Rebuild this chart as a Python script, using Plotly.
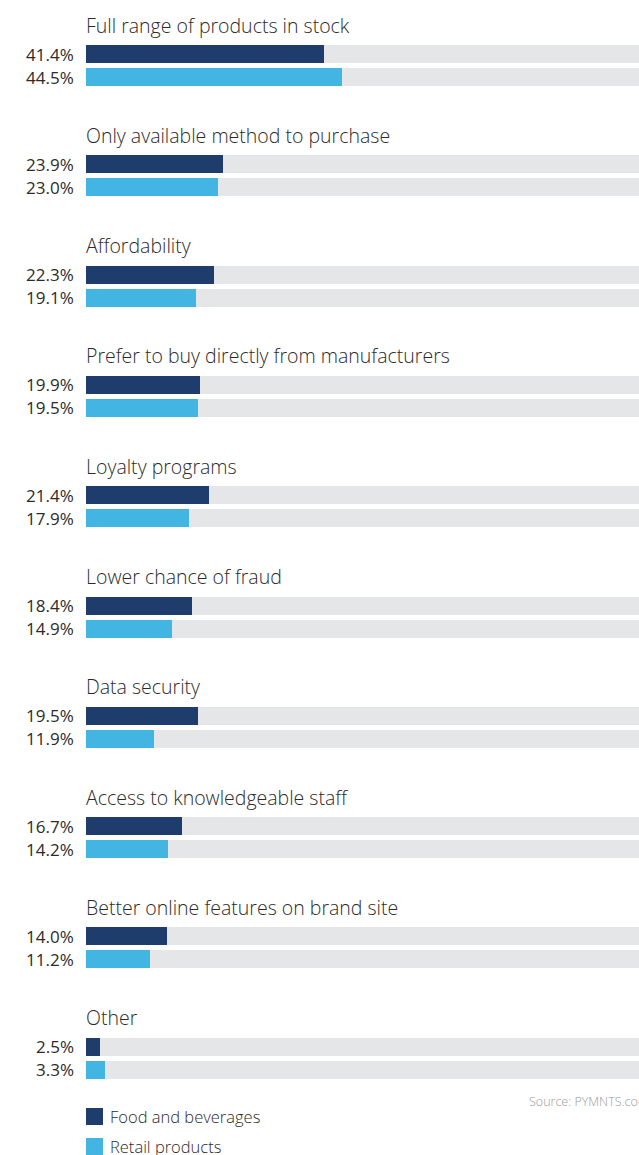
import plotly.graph_objects as go

# Survey reasons and shares (%) for each product group
reasons = [
    "Full range of products in stock",
    "Only available method to purchase",
    "Affordability",
    "Prefer to buy directly from manufacturers",
    "Loyalty programs",
    "Lower chance of fraud",
    "Data security",
    "Access to knowledgeable staff",
    "Better online features on brand site",
    "Other",
]
food_beverages = [41.4, 23.9, 22.3, 19.9, 21.4, 18.4, 19.5, 16.7, 14.0, 2.5]
retail_products = [44.5, 23.0, 19.1, 19.5, 17.9, 14.9, 11.9, 14.2, 11.2, 3.3]
series_names = ["Food and beverages", "Retail products"]
source_text = "Source: PYMNTS.com"

# Styling
DARK = "#1e3d6d"
LIGHT = "#42b5e3"
TRACK = "#e5e6e8"
TEXT = "#2b2b2b"
FONT = "Open Sans"

W, H = 639, 1155
LEFT = 86
GROUP_STEP = 110.3
FIRST_BAR = 54.0
BAR_GAP = 23.0
BAR_H = 18.0

n = len(reasons)
y_food = [FIRST_BAR + GROUP_STEP * i for i in range(n)]
y_retail = [y + BAR_GAP for y in y_food]
y_title = [FIRST_BAR - 29 + GROUP_STEP * i for i in range(n)]

fig = go.Figure()

# Grey full-length tracks behind each bar
fig.add_trace(go.Bar(
    x=[100] * (2 * n), y=y_food + y_retail, orientation="h",
    width=BAR_H, marker=dict(color=TRACK, line=dict(width=0)),
    showlegend=False, hoverinfo="skip",
))
fig.add_trace(go.Bar(
    x=food_beverages, y=y_food, orientation="h", width=BAR_H,
    name=series_names[0], marker=dict(color=DARK, line=dict(width=0)),
    showlegend=False,
))
fig.add_trace(go.Bar(
    x=retail_products, y=y_retail, orientation="h", width=BAR_H,
    name=series_names[1], marker=dict(color=LIGHT, line=dict(width=0)),
    showlegend=False,
))

annotations = []
for i in range(n):
    annotations.append(dict(
        text=reasons[i], x=0, xref="paper", y=y_title[i], yref="y",
        xanchor="left", yanchor="middle", showarrow=False, xshift=-2,
        font=dict(family=FONT, size=19.5, color=TEXT, weight=300),
    ))
    for val, yy in ((food_beverages[i], y_food[i]), (retail_products[i], y_retail[i])):
        annotations.append(dict(
            text=f"{val:.1f}%", x=0, xref="paper", y=yy, yref="y",
            xanchor="right", yanchor="middle", xshift=-10, showarrow=False,
            font=dict(family=FONT, size=17, color=TEXT),
        ))

# Legend rows drawn below the chart
legend_y = [1116.5, 1146.5]
shapes = []
for name, color, ly in zip(series_names, [DARK, LIGHT], legend_y):
    shapes.append(dict(
        type="rect", xref="paper", yref="y", x0=0, x1=17 / (W - LEFT),
        y0=ly - 8.5, y1=ly + 8.5, fillcolor=color, line=dict(width=0),
    ))
    annotations.append(dict(
        text=name, x=22 / (W - LEFT), xref="paper", y=ly, yref="y",
        xanchor="left", yanchor="middle", showarrow=False,
        font=dict(family=FONT, size=16.5, color=TEXT, weight=300),
    ))

annotations.append(dict(
    text=source_text, x=(527 - LEFT) / (W - LEFT), xref="paper", y=1101.5, yref="y",
    xanchor="left", yanchor="middle", showarrow=False,
    font=dict(family=FONT, size=12.5, color="#9a9a9a", weight=300),
))

fig.update_layout(
    width=W, height=H,
    margin=dict(l=LEFT, r=0, t=0, b=0),
    paper_bgcolor="white", plot_bgcolor="white",
    barmode="overlay", bargap=0,
    xaxis=dict(range=[0, (W - LEFT) / 5.75], visible=False, fixedrange=True),
    yaxis=dict(range=[H, 0], visible=False, fixedrange=True),
    annotations=annotations, shapes=shapes,
    showlegend=False,
)

fig.write_html("out.html")
